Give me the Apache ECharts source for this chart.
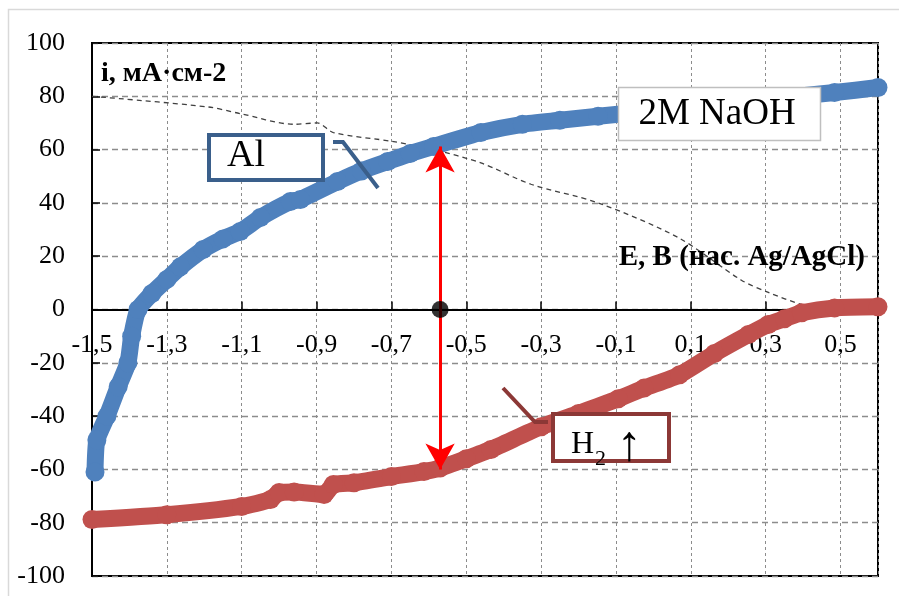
<!DOCTYPE html>
<html>
<head>
<meta charset="utf-8">
<script src="https://cdn.jsdelivr.net/npm/echarts@6/dist/echarts.min.js"></script>
<style>
html,body{margin:0;padding:0;background:#fff;}
#chart{width:899px;height:596px;}
</style>
</head>
<body>
<div id="chart"></div>
<script>
// ---- data ----
const xTickLabels = ['-1,5','-1,3','-1,1','-0,9','-0,7','-0,5','-0,3','-0,1','0,1','0,3','0,5'];
const yTickLabels = ['-100','-80','-60','-40','-20','0','20','40','60','80','100'];

const alE = [-1.492,-1.487,-1.46,-1.43,-1.404,-1.394,-1.377,-1.34,-1.30,-1.264,-1.203,-1.15,-1.104,-1.05,-0.97,-0.943,-0.844,-0.78,-0.71,-0.65,-0.587,-0.461,-0.35,-0.25,-0.148,0.484,0.6];
const alI = [-61,-49,-40,-29,-20,-10,0,6,11.3,16,22.5,26.5,29.3,34.5,40.5,41.3,48,52,55.5,58.5,61.2,66.4,69.5,71,72.5,81.4,83.3];

const h2E = [-1.5,-1.3,-1.1,-1.023,-1.0,-0.96,-0.88,-0.855,-0.80,-0.70,-0.613,-0.57,-0.50,-0.434,-0.30,-0.20,-0.094,-0.025,0.07,0.163,0.254,0.307,0.35,0.396,0.484,0.6];
const h2I = [-78.8,-77,-73.9,-71.3,-68.7,-68.5,-69.4,-65.7,-65,-62.7,-60.8,-59.5,-56,-52.5,-44,-39,-33.5,-29.5,-24.5,-16.5,-9.4,-5.6,-3.5,-1.2,0.6,1.0];

const dashE = [-1.5,-1.19,-1.104,-0.96,-0.898,-0.855,-0.694,-0.587,-0.461,-0.327,-0.148,0.066,0.235,0.307,0.396,0.45,0.6];
const dashI = [80,76,73.5,69.5,70,66.4,63,60,55,47,40,27,11,6.4,1.9,0.5,-0.5];

const markE = [-0.57];
const markI = [0];
const arrowI = [61.2, -60];

const labelAl = 'Al';
const labelNaOH = '2M NaOH';
const yTitle = 'i, мА·см-2';
const xTitle = 'E, В (нас. Ag/AgCl)';

// ---- chart ----
const zip = (a, b) => a.map((v, i) => [v, b[i]]);
const FONT = "'Liberation Serif', 'Times New Roman', serif";
const chart = echarts.init(document.getElementById('chart'), null, {renderer: 'canvas'});

const fmtX = v => {
  if (v > 0.55) return '';
  const s = v.toFixed(1);
  return s === '-0.0' ? '0,0' : s.replace('.', ',');
};

const GRID = {left: 92, right: 21, top: 43, bottom: 20};
const plotH = 596 - GRID.top - GRID.bottom;

const option = {
  backgroundColor: '#fff',
  animation: false,
  grid: Object.assign({show: true, borderColor: '#000', borderWidth: 2, backgroundColor: 'transparent', containLabel: false, outerBoundsMode: 'none'}, GRID),
  xAxis: {
    type: 'value', min: -1.5, max: 0.6, interval: 0.2,
    position: 'bottom', offset: -plotH / 2,
    axisLine: {onZero: false, lineStyle: {color: '#000', width: 2}},
    axisTick: {show: true, inside: true, length: 8, lineStyle: {color: '#000', width: 1.5}},
    axisLabel: {formatter: fmtX, fontFamily: FONT, fontSize: 26, color: '#000', margin: 23},
    splitLine: {show: true, lineStyle: {color: '#8c8c8c', width: 1, type: [3, 3]}}
  },
  yAxis: {
    type: 'value', min: -100, max: 100, interval: 20,
    axisLine: {show: true, onZero: false, lineStyle: {color: '#000', width: 2}},
    axisTick: {show: true, inside: true, length: 8, lineStyle: {color: '#000', width: 1.5}},
    axisLabel: {fontFamily: FONT, fontSize: 26, color: '#000', margin: 27,
      formatter: v => yTickLabels[Math.round((v + 100) / 20)]},
    splitLine: {show: true, lineStyle: {color: '#8c8c8c', width: 1.3, type: [6, 4]}}
  },
  series: [
    {
      type: 'line', name: 'dash', data: zip(dashE, dashI), symbol: 'none', z: 2,
      smooth: 0.3,
      lineStyle: {color: '#404040', width: 1.3, type: [5, 4]}
    },
    {
      type: 'line', name: 'Al', data: zip(alE, alI), symbol: 'circle', symbolSize: 19, z: 3,
      smooth: 0.2,
      itemStyle: {color: '#4F81BD'}, lineStyle: {color: '#4F81BD', width: 17, cap: 'round', join: 'round'}
    },
    {
      type: 'line', name: 'H2', data: zip(h2E, h2I), symbol: 'circle', symbolSize: 19, z: 3,
      smooth: 0.2,
      itemStyle: {color: '#C0504D'}, lineStyle: {color: '#C0504D', width: 17, cap: 'round', join: 'round'}
    },
    {
      type: 'scatter', name: 'point', data: zip(markE, markI), symbol: 'circle', symbolSize: 17, z: 6,
      itemStyle: {color: '#000'},
      markLine: {
        silent: true, symbol: ['arrow', 'arrow'], symbolSize: [22, 26],
        label: {show: false},
        lineStyle: {color: '#FF0000', width: 3, type: 'solid'},
        data: [[{coord: [markE[0], arrowI[0]]}, {coord: [markE[0], arrowI[1]]}]]
      }
    }
  ],
  graphic: [
    {type: 'rect', z: -10, shape: {x: 8.5, y: 9.5, width: 1000, height: 1000}, style: {fill: 'none', stroke: '#D9D9D9', lineWidth: 1.5}},
    {type: 'text', z: 100, left: 101, top: 60, style: {text: yTitle, font: "bold 28px " + FONT, fill: '#000'}},
    {type: 'text', z: 100, right: 34, top: 243, style: {text: xTitle, font: "bold 29px " + FONT, fill: '#000'}},
    // Al callout
    {type: 'polyline', z: 100, shape: {points: [[333, 142], [343, 142], [378, 188]]}, style: {stroke: '#3A5F8B', lineWidth: 4, fill: 'none'}},
    {type: 'rect', z: 100, shape: {x: 209, y: 135, width: 114, height: 45}, style: {fill: '#fff', stroke: '#3A5F8B', lineWidth: 4}},
    {type: 'text', z: 101, x: 227, y: 137, style: {text: labelAl, font: "38px " + FONT, fill: '#000'}},
    // NaOH label
    {type: 'rect', z: 100, shape: {x: 618.5, y: 87.5, width: 202, height: 53}, style: {fill: '#fff', stroke: '#BFBFBF', lineWidth: 1.5}},
    {type: 'text', z: 101, x: 717, y: 114, style: {text: labelNaOH, font: "37px " + FONT, fill: '#000', align: 'center', verticalAlign: 'middle'}},
    // H2 callout
    {type: 'polyline', z: 100, shape: {points: [[503, 388], [535, 422], [548, 422]]}, style: {stroke: '#8C3836', lineWidth: 4, fill: 'none'}},
    {type: 'rect', z: 100, shape: {x: 553, y: 414, width: 116, height: 47}, style: {fill: '#fff', stroke: '#8C3836', lineWidth: 4}},
    {type: 'text', z: 101, x: 571, y: 445, style: {text: 'H', font: "32px " + FONT, fill: '#000', verticalAlign: 'middle'}},
    {type: 'text', z: 101, x: 595, y: 459, style: {text: '2', font: "22px " + FONT, fill: '#000', verticalAlign: 'middle'}},
    {type: 'text', z: 101, x: 617, y: 447, style: {text: '↑', font: "50px " + FONT, fill: '#000', verticalAlign: 'middle'}}
  ]
};
chart.setOption(option);
</script>
</body>
</html>
